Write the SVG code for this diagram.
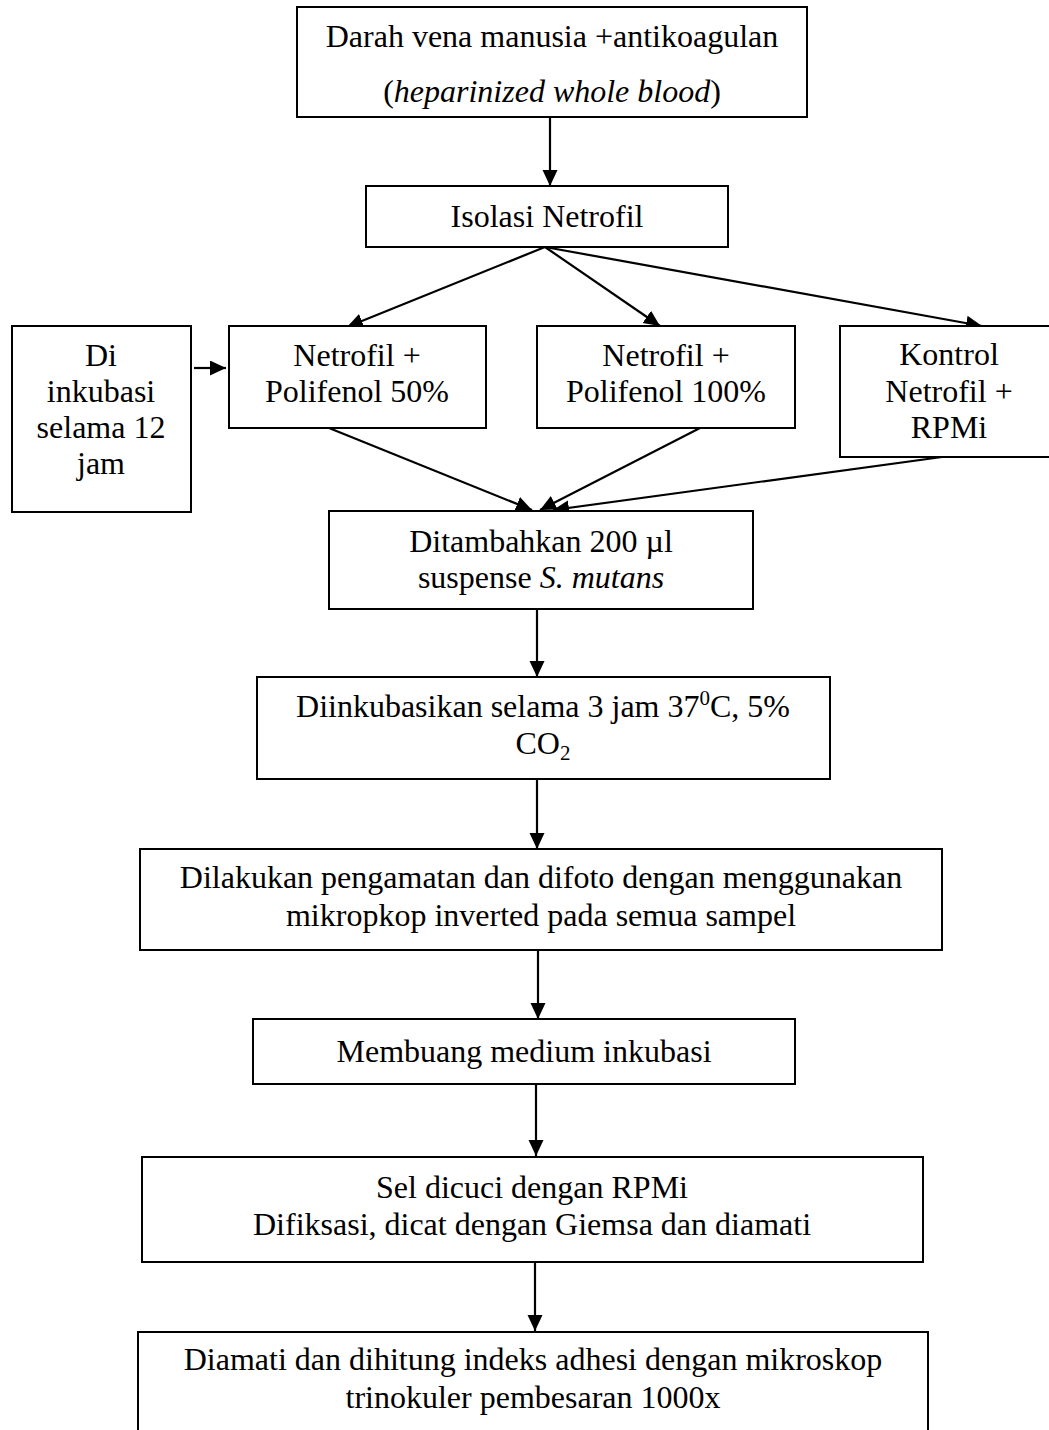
<svg xmlns="http://www.w3.org/2000/svg" width="1049" height="1430" viewBox="0 0 1049 1430">
<style>
.box{fill:#fff;stroke:#000;stroke-width:2}
.t{font-family:"Liberation Serif","Times New Roman",serif;font-size:32px;fill:#000;text-anchor:middle}
.i{font-style:italic}
.c{stroke:#000;stroke-width:2.2;fill:none}
</style>
<defs>
<marker id="ah" markerUnits="userSpaceOnUse" markerWidth="18" markerHeight="16" refX="16" refY="7.5" orient="auto">
<path d="M0,0 L16,7.5 L0,15 z" fill="#000"/>
</marker>
</defs>
<rect width="1049" height="1430" fill="#fff"/>
<g id="connectors">
<line class="c" x1="550" y1="117" x2="550" y2="186" marker-end="url(#ah)"/>
<line class="c" x1="545" y1="247" x2="347" y2="327" marker-end="url(#ah)"/>
<line class="c" x1="545" y1="247" x2="660" y2="326" marker-end="url(#ah)"/>
<line class="c" x1="545" y1="247" x2="982" y2="326" marker-end="url(#ah)"/>
<line class="c" x1="194" y1="368" x2="226" y2="368" marker-end="url(#ah)"/>
<line class="c" x1="329" y1="428" x2="532" y2="510" marker-end="url(#ah)"/>
<line class="c" x1="700" y1="428" x2="540" y2="510" marker-end="url(#ah)"/>
<line class="c" x1="942" y1="457" x2="553" y2="510" marker-end="url(#ah)"/>
<line class="c" x1="537" y1="609" x2="537" y2="677" marker-end="url(#ah)"/>
<line class="c" x1="537" y1="779" x2="537" y2="849" marker-end="url(#ah)"/>
<line class="c" x1="538" y1="950" x2="538" y2="1019" marker-end="url(#ah)"/>
<line class="c" x1="536" y1="1084" x2="536" y2="1156" marker-end="url(#ah)"/>
<line class="c" x1="535" y1="1262" x2="535" y2="1331" marker-end="url(#ah)"/>
</g>
<g id="n-darah">
<rect class="box" x="297" y="7" width="510" height="110"/>
<text class="t" x="552" y="47">Darah vena manusia +antikoagulan</text>
<text class="t" x="552" y="102">(<tspan class="i">heparinized whole blood</tspan>)</text>
</g>
<g id="n-isolasi">
<rect class="box" x="366" y="186" width="362" height="61"/>
<text class="t" x="547" y="227">Isolasi Netrofil</text>
</g>
<g id="n-inkubasi12">
<rect class="box" x="12" y="326" width="179" height="186"/>
<text class="t" x="101" y="366">Di</text>
<text class="t" x="101" y="402">inkubasi</text>
<text class="t" x="101" y="438">selama 12</text>
<text class="t" x="101" y="474">jam</text>
</g>
<g id="n-poli50">
<rect class="box" x="229" y="326" width="257" height="102"/>
<text class="t" x="357" y="366">Netrofil +</text>
<text class="t" x="357" y="402">Polifenol 50%</text>
</g>
<g id="n-poli100">
<rect class="box" x="537" y="326" width="258" height="102"/>
<text class="t" x="666" y="366">Netrofil +</text>
<text class="t" x="666" y="402">Polifenol 100%</text>
</g>
<g id="n-kontrol">
<rect class="box" x="840" y="326" width="220" height="131"/>
<text class="t" x="949" y="365">Kontrol</text>
<text class="t" x="949" y="402">Netrofil +</text>
<text class="t" x="949" y="438">RPMi</text>
</g>
<g id="n-ditambahkan">
<rect class="box" x="329" y="511" width="424" height="98"/>
<text class="t" x="541" y="552">Ditambahkan 200 µl</text>
<text class="t" x="541" y="588">suspense <tspan class="i">S. mutans</tspan></text>
</g>
<g id="n-diinkubasikan">
<rect class="box" x="257" y="677" width="573" height="102"/>
<text class="t" x="543" y="717">Diinkubasikan selama 3 jam 37<tspan font-size="21" dy="-12">0</tspan><tspan dy="12">C, 5%</tspan></text>
<text class="t" x="543" y="754">CO<tspan font-size="21" dy="6">2</tspan></text>
</g>
<g id="n-dilakukan">
<rect class="box" x="140" y="849" width="802" height="101"/>
<text class="t" x="541" y="888">Dilakukan pengamatan dan difoto dengan menggunakan</text>
<text class="t" x="541" y="926">mikropkop inverted pada semua sampel</text>
</g>
<g id="n-membuang">
<rect class="box" x="253" y="1019" width="542" height="65"/>
<text class="t" x="524" y="1062">Membuang medium inkubasi</text>
</g>
<g id="n-sel">
<rect class="box" x="142" y="1157" width="781" height="105"/>
<text class="t" x="532" y="1198">Sel dicuci dengan RPMi</text>
<text class="t" x="532" y="1235">Difiksasi, dicat dengan Giemsa dan diamati</text>
</g>
<g id="n-diamati">
<rect class="box" x="138" y="1332" width="790" height="120"/>
<text class="t" x="533" y="1370">Diamati dan dihitung indeks adhesi dengan mikroskop</text>
<text class="t" x="533" y="1408">trinokuler pembesaran 1000x</text>
</g>
</svg>
